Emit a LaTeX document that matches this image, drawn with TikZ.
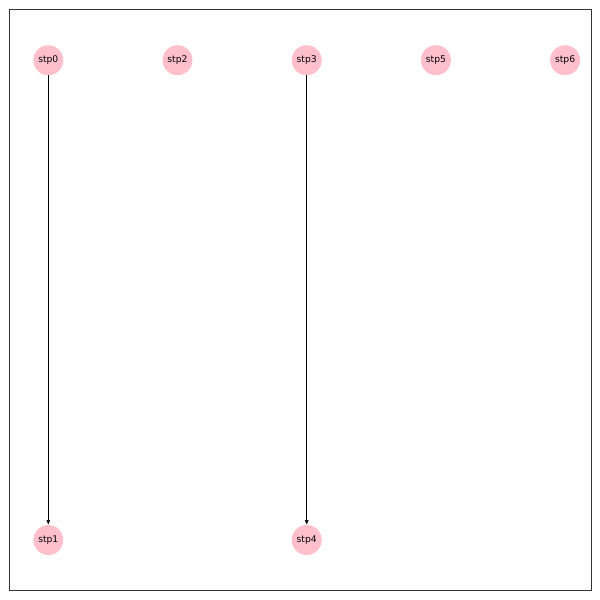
\documentclass[tikz,border=0pt]{standalone}
\usepackage{fontspec}
\setmainfont{DejaVu Sans}
\usetikzlibrary{arrows.meta}
\begin{document}
\begin{tikzpicture}[x=1pt,y=-1pt,
  vtx/.style={circle,fill={rgb,255:red,255;green,192;blue,203},minimum size=30pt,inner sep=0pt,font=\fontsize{9.2pt}{11pt}\selectfont},
  edge/.style={draw=black,line width=0.7pt,-{Triangle[length=4.5pt,width=3.6pt]},shorten >=0.3pt}]
\useasboundingbox (0,0) rectangle (600,600);
\draw[line width=0.8pt,draw={rgb,255:red,51;green,51;blue,51}] (9.3,9.3) rectangle (591,590.7);
\node[vtx] (s0) at (48.3,60.2) {stp0};
\node[vtx] (s2) at (177.5,60.2) {stp2};
\node[vtx] (s3) at (306.7,60.2) {stp3};
\node[vtx] (s5) at (435.9,60.2) {stp5};
\node[vtx] (s6) at (565.1,60.2) {stp6};
\node[vtx] (s1) at (48.3,540) {stp1};
\node[vtx] (s4) at (306.7,540) {stp4};
\draw[edge] (s0) -- (s1);
\draw[edge] (s3) -- (s4);
\end{tikzpicture}
\end{document}
